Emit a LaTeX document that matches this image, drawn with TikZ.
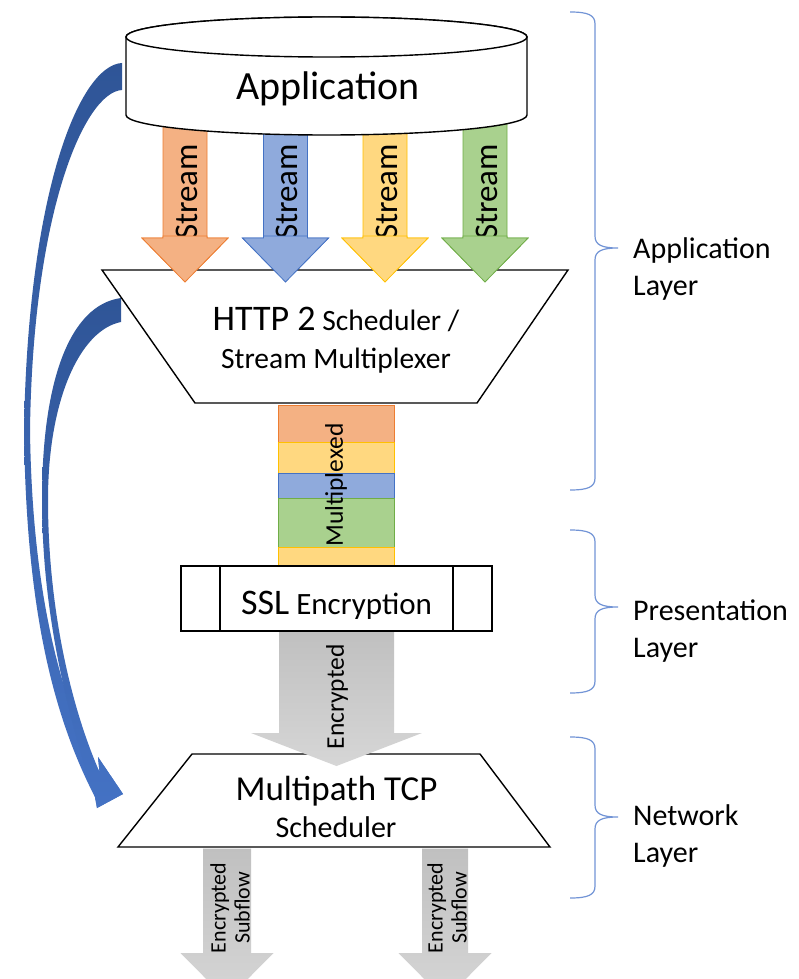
\documentclass[tikz,border=0pt]{standalone}
\usepackage{fontspec}
\setmainfont{Carlito}
\definecolor{orfill}{RGB}{244,177,131}
\definecolor{ordraw}{RGB}{237,125,49}
\definecolor{blfill}{RGB}{143,170,220}
\definecolor{bldraw}{RGB}{68,114,196}
\definecolor{yefill}{RGB}{255,216,128}
\definecolor{yedraw}{RGB}{255,192,0}
\definecolor{grfill}{RGB}{169,209,142}
\definecolor{grdraw}{RGB}{112,173,71}
\definecolor{bracecol}{RGB}{114,148,214}
\definecolor{curvtop}{RGB}{47,85,151}
\definecolor{curvbot}{RGB}{68,114,196}
\definecolor{graytop}{RGB}{192,192,192}
\definecolor{graybot}{RGB}{214,214,214}
\newcommand{\fs}[2]{\fontsize{#1}{#2}\selectfont}
% style, cx, ytop, yhead, ytip, half shaft, half head
\newcommand{\blockarrow}[7]{\path[#1] ({#2-#6},#3) -- ({#2+#6},#3) -- ({#2+#6},#4) -- ({#2+#7},#4) -- (#2,#5) -- ({#2-#7},#4) -- ({#2-#6},#4) -- cycle;}
% top, mid, bottom
\newcommand{\layerbrace}[3]{\draw[bracestyle] (570,#1) .. controls (588,#1) and (595,{#1+3}) .. (595,{#1+12}) -- (595,{#2-12}) .. controls (595,{#2-3}) and (602,#2) .. (618,#2) .. controls (602,#2) and (595,{#2+3}) .. (595,{#2+12}) -- (595,{#3-12}) .. controls (595,{#3-3}) and (588,#3) .. (570,#3);}
\begin{document}
\begin{tikzpicture}[x=1pt,y=-1pt,
  shapeline/.style={draw=black, line width=1.4pt, fill=white},
  orarrow/.style={fill=orfill, draw=ordraw, line width=0.8pt},
  blarrow/.style={fill=blfill, draw=bldraw, line width=0.8pt},
  yearrow/.style={fill=yefill, draw=yedraw, line width=0.8pt},
  grarrow/.style={fill=grfill, draw=grdraw, line width=0.8pt},
  grayarrow/.style={top color=graytop, bottom color=graybot, draw=none},
  curvarrow/.style={top color=curvtop, bottom color=curvbot, draw=none},
  bracestyle/.style={draw=bracecol, line width=1.2pt},
  vtext/.style={rotate=90, inner sep=0pt},
  htext/.style={anchor=base, inner sep=0pt},
  label/.style={anchor=base west, align=left, inner sep=0pt, font=\fs{30}{37}}
]
\useasboundingbox (0,0) rectangle (798,979);
\fill[white] (0,0) rectangle (798,979);

% curved arrows
\path[curvarrow] (122,63) .. controls (80,65) and (28,190) .. (24,430) .. controls (26,600) and (50,710) .. (95,797) -- (97,808) -- (123,794) -- (98,757) -- (99.5,772) .. controls (60,700) and (32,590) .. (30,430) .. controls (33,210) and (85,92) .. (122,90) -- cycle;
\path[curvarrow] (121,298) .. controls (70,305) and (42,380) .. (42,500) .. controls (42,600) and (62,700) .. (95,797) -- (97,808) -- (123,794) -- (98,757) -- (99.5,772) .. controls (68,700) and (48,600) .. (48,500) .. controls (48,400) and (80,330) .. (121,322) -- cycle;

% stream arrows
\blockarrow{orarrow}{185}{105}{238}{282}{22}{43}
\blockarrow{blarrow}{285.5}{105}{238}{282}{22}{43}
\blockarrow{yearrow}{385}{105}{238}{282}{22}{43}
\blockarrow{grarrow}{485}{105}{238}{282}{22}{43}

% application cylinder
\path[shapeline] (126,37) -- (126,115) arc[start angle=180, end angle=360, x radius=200.5pt, y radius=20pt] -- (527,37) arc[start angle=0, end angle=180, x radius=200.5pt, y radius=20pt] -- cycle;
\draw[shapeline] (326.5,37) ellipse[x radius=200.5pt, y radius=20pt];
\node (app) [htext, font=\fs{40}{48}] at (328,100) {Application};

% stream labels
\node (s1) [vtext, font=\fs{33}{40}] at (186.5,192) {Stream};
\node (s2) [vtext, font=\fs{33}{40}] at (287,192) {Stream};
\node (s3) [vtext, font=\fs{33}{40}] at (386.5,192) {Stream};
\node (s4) [vtext, font=\fs{33}{40}] at (486.5,192) {Stream};

% HTTP2 scheduler
\path[shapeline] (102,270) -- (568,270) -- (477,403) -- (195,403) -- cycle;
\blockarrow{orarrow}{185}{236}{238}{282}{22}{43}
\blockarrow{blarrow}{285.5}{236}{238}{282}{22}{43}
\blockarrow{yearrow}{385}{236}{238}{282}{22}{43}
\blockarrow{grarrow}{485}{236}{238}{282}{22}{43}
\node (http) [htext, font=\fs{29.5}{36}] at (336,330) {{\fs{36}{40}HTTP 2} Scheduler /};
\node (httpb) [htext, font=\fs{29.5}{36}] at (336,368) {Stream Multiplexer};

% multiplexed bar
\path[orarrow] (278,405) rectangle (394,442);
\path[yearrow] (278,442) rectangle (394,473);
\path[blarrow] (278,473) rectangle (394,498);
\path[grarrow] (278,498) rectangle (394,547);
\path[yearrow] (278,547) rectangle (394,565);
\node (mux) [vtext, font=\fs{25.5}{30}] at (336,485) {Multiplexed};

% SSL
\path[shapeline] (181,566) rectangle (492,631);
\draw[shapeline] (220,566) -- (220,631) (453,566) -- (453,631);
\node (ssl) [htext, font=\fs{31}{36}] at (336.5,614) {{\fs{36}{40}SSL} Encryption};

% multipath TCP
\path[shapeline] (192,754) -- (480,754) -- (550,847) -- (118,847) -- cycle;
\blockarrow{grayarrow}{336.5}{632}{733}{766}{57.5}{85.5}
\node (enc) [vtext, font=\fs{25.5}{30}] at (337,697) {Encrypted};
\node (mp) [htext, font=\fs{35}{40}] at (336.5,800) {Multipath TCP};
\node (mps) [htext, font=\fs{30}{36}] at (336,837) {Scheduler};

% subflows
\blockarrow{grayarrow}{227}{848.5}{953}{1000}{24}{46.5}
\blockarrow{grayarrow}{445}{848.5}{953}{1000}{23}{46.5}
\node (sf1) [vtext, align=center, font=\fs{22}{24}] at (230,908) {Encrypted\\Subflow};
\node (sf2) [vtext, align=center, font=\fs{22}{24}] at (447,908) {Encrypted\\Subflow};

% braces
\layerbrace{12}{248}{490}
\layerbrace{530}{607}{693}
\layerbrace{737}{817}{898}
\node (lapp) [label] at (633,295) {Application\\Layer};
\node (lpres) [label] at (633,657) {Presentation\\Layer};
\node (lnet) [label] at (633,862) {Network\\Layer};
\end{tikzpicture}
\end{document}
